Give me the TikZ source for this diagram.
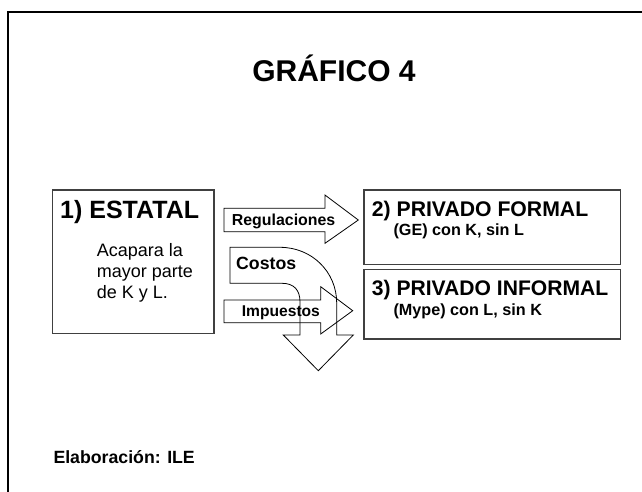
\documentclass[tikz,border=0pt]{standalone}
\usepackage{fontspec}
\setmainfont{Liberation Sans}
\newcommand{\letra}[1]{\fontsize{#1}{#1}\selectfont}

\begin{document}
\begin{tikzpicture}[x=1pt,y=-1pt,
                caja/.style = {draw=black!75, line width=1.1pt, rectangle, inner sep=0pt},
                flecha/.style = {draw=black, line width=0.8pt, line join=miter},
                negrita/.style = {anchor=base west, inner sep=0pt, font=\bfseries\letra{#1}},
                normal/.style = {anchor=base west, inner sep=0pt, font=\letra{#1}}]
                \clip (0,0) rectangle (642,491);
                % marco de la lamina
                \draw[line width=2.2pt] (8.3,500) |- (650,12);
                \node[anchor=base, inner sep=0pt, font=\bfseries\letra{30}] (titulo) at (334,81.7) {GRÁFICO 4};
                % sectores
                \node[caja, minimum width=161.3pt, minimum height=143.3pt] (1) at (133.35,261.65) {};
                \node[caja, minimum width=256.7pt, minimum height=74.3pt] (2) at (492.35,227.15) {};
                \node[caja, minimum width=256.7pt, minimum height=69.7pt] (3) at (492.35,304.15) {};
                \node[negrita=25] (t1) at (60,218.3) {1) ESTATAL};
                \node[normal=18] (a1) at (96.7,256.7) {Acapara la};
                \node[normal=18] (a2) at (96.7,277.5) {mayor parte};
                \node[normal=18] (a3) at (96.7,298.3) {de K y L.};
                \node[negrita=21.2] (t2) at (371.7,216.7) {2) PRIVADO FORMAL};
                \node[negrita=16.2] (s2) at (393.3,235) {(GE) con K, sin L};
                \node[negrita=21.1] (t3) at (371.7,295) {3) PRIVADO INFORMAL};
                \node[negrita=16.2] (s3) at (393.3,315) {(Mype) con L, sin K};
                % flechas
                \draw[flecha] (224,208.3) -- (325,208.3) -- (325,195) -- (358.3,220)
                    -- (325,243.3) -- (325,231.7) -- (224,231.7) -- cycle;
                \draw[flecha] (224,300) -- (320.7,300) -- (320.7,286.7) -- (352.7,310.7)
                    -- (320.7,334) -- (320.7,322.7) -- (224,322.7) -- cycle;
                \draw[flecha] (230,247.3) -- (280,247.3) .. controls (312,247.3) and (336.7,272) .. (336.7,303)
                    -- (336.7,335) -- (353.3,335) -- (318.3,370.7) -- (283.3,335) -- (300,335) -- (300,302)
                    .. controls (300,290) and (294,283.3) .. (282,283.3) -- (230,283.3) -- cycle;
                \node[negrita=15.9] (reg) at (231.7,225.7) {Regulaciones};
                \node[negrita=17.7] (cos) at (236,269.3) {Costos};
                \node[negrita=15.6] (imp) at (241.7,316.7) {Impuestos};
                \node[negrita=17.7] (fuente) at (53.3,463) {Elaboración: ILE};
            \end{tikzpicture}
\end{document}
